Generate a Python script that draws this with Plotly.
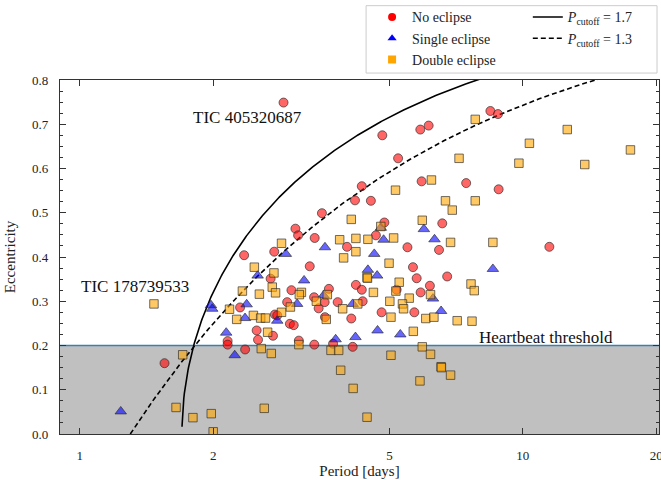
import numpy as np
import plotly.graph_objects as go

# Orbital period [days] and eccentricity, split by eclipse type
no_ecl_period = [1.553, 2.156, 2.156, 2.361, 2.507, 2.525, 2.729, 3.122, 3.383, 2.98,
                 3.04, 2.30, 2.757, 2.79, 2.938, 3.004, 3.304, 3.39, 3.52, 3.067,
                 3.11, 2.747, 2.349, 2.696, 3.379, 3.46, 3.576, 2.883, 4.818, 5.87,
                 6.13, 5.23, 4.33, 5.91, 7.45, 4.18, 4.54, 4.87, 6.58, 6.47,
                 4.66, 4.01, 5.49, 5.65, 5.76, 6.75, 4.20, 4.33, 5.19, 5.88,
                 6.17, 4.80, 5.69, 4.10, 3.65, 3.57, 3.82, 4.35, 3.73, 4.13,
                 8.45, 8.79, 8.82, 11.48]
no_ecl_ecc = [0.160, 0.210, 0.202, 0.191, 0.234, 0.213, 0.222, 0.211, 0.202, 0.249,
              0.246, 0.286, 0.270, 0.268, 0.298, 0.325, 0.379, 0.443, 0.499, 0.464,
              0.449, 0.412, 0.404, 0.351, 0.309, 0.284, 0.264, 0.749, 0.675, 0.688,
              0.697, 0.623, 0.560, 0.571, 0.567, 0.528, 0.527, 0.478, 0.476, 0.416,
              0.449, 0.423, 0.422, 0.377, 0.352, 0.356, 0.337, 0.326, 0.326, 0.320,
              0.335, 0.275, 0.275, 0.261, 0.328, 0.298, 0.298, 0.300, 0.204, 0.197,
              0.730, 0.723, 0.553, 0.423]

single_period = [1.237, 2.14, 2.237, 2.36, 2.79, 1.977, 1.99, 2.38, 3.094, 3.208,
                 3.576, 2.918, 2.52, 3.55, 4.78, 5.98, 6.32, 4.85, 4.62, 4.47,
                 4.69, 6.27, 6.54, 4.13, 4.70, 5.29, 4.19, 3.78, 8.56]
single_ecc = [0.051, 0.229, 0.178, 0.262, 0.256, 0.291, 0.283, 0.293, 0.294, 0.347,
              0.422, 0.407, 0.358, 0.313, 0.466, 0.463, 0.440, 0.439, 0.407, 0.371,
              0.358, 0.306, 0.278, 0.294, 0.234, 0.225, 0.219, 0.214, 0.373]

double_period = [1.47, 1.707, 1.649, 1.80, 1.98, 2.00, 2.26, 2.654, 2.568, 2.705,
                 3.122, 3.60, 2.608, 2.177, 2.465, 2.56, 2.625, 2.853, 2.988, 3.164,
                 3.13, 2.853, 2.477, 2.743, 2.719, 2.766, 2.328, 2.543, 3.42, 7.18,
                 6.22, 5.16, 6.69, 6.93, 4.10, 4.78, 5.93, 6.87, 5.11, 4.47,
                 4.20, 3.86, 4.20, 3.94, 4.99, 4.45, 4.46, 4.60, 5.26, 5.17,
                 6.19, 5.54, 5.01, 5.35, 5.38, 5.04, 6.04, 6.30, 7.11, 3.62,
                 4.24, 3.92, 5.66, 3.69, 3.84, 5.04, 5.93, 6.19, 6.54, 6.55,
                 6.87, 5.86, 3.88, 4.14, 4.45, 7.81, 12.6, 10.35, 17.5, 9.80,
                 13.8, 7.81, 8.56, 7.64, 7.77, 7.68]
double_ecc = [0.294, 0.179, 0.060, 0.037, 0.046, 0.005, 0.259, 0.230, 0.193, 0.182,
              0.202, 0.259, 0.058, 0.282, 0.268, 0.262, 0.262, 0.275, 0.287, 0.320,
              0.315, 0.431, 0.377, 0.364, 0.332, 0.319, 0.323, 0.316, 0.300, 0.623,
              0.574, 0.551, 0.527, 0.506, 0.485, 0.469, 0.483, 0.433, 0.443, 0.440,
              0.442, 0.439, 0.412, 0.398, 0.386, 0.354, 0.352, 0.320, 0.343, 0.323,
              0.315, 0.307, 0.300, 0.294, 0.283, 0.264, 0.261, 0.264, 0.256, 0.315,
              0.294, 0.283, 0.232, 0.189, 0.189, 0.178, 0.197, 0.180, 0.152, 0.150,
              0.133, 0.120, 0.144, 0.103, 0.038, 0.711, 0.688, 0.657, 0.642, 0.612,
              0.609, 0.527, 0.433, 0.339, 0.324, 0.255]

heartbeat_threshold = 0.2
p_cutoff_solid = 1.7
p_cutoff_dashed = 1.3
x_tick_values = [1, 2, 5, 10, 20]
x_tick_labels = ["1", "2", "5", "10", "20"]
y_tick_values = [0.0, 0.1, 0.2, 0.3, 0.4, 0.5, 0.6, 0.7, 0.8]
x_range = [0.902, 20.3]
y_range = [0.0, 0.8]

FONT = "Liberation Serif"
EDGE = "rgba(40,40,40,0.65)"

fig = go.Figure()

# Cutoff envelopes
p_solid = np.geomspace(p_cutoff_solid * 1.0004, x_range[1], 800)
e_solid = np.sqrt(1.0 - (p_cutoff_solid / p_solid) ** (2.0 / 3.0))
p_dash = np.geomspace(p_cutoff_dashed, x_range[1], 800)
e_dash = 1.0 - (p_cutoff_dashed / p_dash) ** (2.0 / 3.0)

fig.add_trace(go.Scatter(x=p_solid, y=e_solid, mode="lines",
                         line=dict(color="black", width=1.6),
                         name="<i>P</i><sub>cutoff</sub> = 1.7", legend="legend2"))
fig.add_trace(go.Scatter(x=p_dash, y=e_dash, mode="lines",
                         line=dict(color="black", width=1.6, dash="5px,3px"),
                         name="<i>P</i><sub>cutoff</sub> = 1.3", legend="legend2"))

# Data points
fig.add_trace(go.Scatter(x=no_ecl_period, y=no_ecl_ecc, mode="markers", showlegend=False,
                         marker=dict(symbol="circle", size=9, color="rgba(255,0,0,0.6)",
                                     line=dict(color=EDGE, width=1))))
fig.add_trace(go.Scatter(x=single_period, y=single_ecc, mode="markers", showlegend=False,
                         marker=dict(symbol="triangle-up", size=10, color="rgba(0,0,255,0.6)",
                                     line=dict(color=EDGE, width=1))))
fig.add_trace(go.Scatter(x=double_period, y=double_ecc, mode="markers", showlegend=False,
                         marker=dict(symbol="square", size=8.5, color="rgba(255,165,0,0.6)",
                                     line=dict(color=EDGE, width=1))))

# Legend entries (solid colours)
for name, sym, col in [("No eclipse", "circle", "red"),
                       ("Single eclipse", "triangle-up", "blue"),
                       ("Double eclipse", "square", "orange")]:
    fig.add_trace(go.Scatter(x=[None], y=[None], mode="markers", name=name, legend="legend",
                             marker=dict(symbol=sym, size=8, color=col, line=dict(width=0))))

# Shaded region below the heartbeat threshold
fig.add_shape(type="rect", xref="paper", x0=0, x1=1, yref="y", y0=0, y1=heartbeat_threshold,
              fillcolor="#c0c0c0", line=dict(width=0), layer="below")
fig.add_shape(type="line", xref="paper", x0=0, x1=1, yref="y",
              y0=heartbeat_threshold, y1=heartbeat_threshold,
              line=dict(color="#3a7fb0", width=1.5), layer="below")

# Legend frame
fig.add_shape(type="rect", xref="paper", yref="paper", x0=0.511, x1=0.9967, y0=1.0196, y1=1.210,
              line=dict(color="#cccccc", width=1), fillcolor="white", layer="below")

ann_font = dict(family=FONT, size=17, color="#111")
fig.add_annotation(x=np.log10(1.78), y=0.716, text="TIC 405320687", showarrow=False,
                   xanchor="left", yanchor="middle", font=ann_font)
fig.add_annotation(x=np.log10(0.995), y=0.334, text="TIC 178739533", showarrow=False,
                   xanchor="left", yanchor="middle", font=ann_font)
fig.add_annotation(x=np.log10(7.88), y=0.219, text="Heartbeat threshold", showarrow=False,
                   xanchor="left", yanchor="middle", font=ann_font)

axis_common = dict(showline=True, linecolor="#333", linewidth=1.2, mirror="allticks",
                   ticks="inside", ticklen=6, tickwidth=1, tickcolor="#333",
                   showgrid=False, zeroline=False, automargin=False,
                   ticklabeloverflow="allow",
                   tickfont=dict(family=FONT, size=13, color="#222"))

fig.update_layout(
    width=661, height=480,
    margin=dict(l=60, r=2, t=77, b=46),
    template="none",
    plot_bgcolor="white", paper_bgcolor="white",
    font=dict(family=FONT, size=13, color="#222"),
    xaxis=dict(type="log", range=[np.log10(x_range[0]), np.log10(x_range[1])],
               tickvals=x_tick_values, ticktext=x_tick_labels, ticklabelstandoff=9,
               title=dict(text="Period [days]", font=dict(family=FONT, size=15), standoff=2),
               **axis_common),
    yaxis=dict(range=y_range, tickvals=y_tick_values, tickformat=".1f", ticklabelstandoff=8,
               minor=dict(dtick=0.025, ticks="inside", ticklen=3, tickcolor="#333"),
               title=dict(text="Eccentricity", font=dict(family=FONT, size=15), standoff=12),
               **axis_common),
    legend=dict(x=0.521, y=1.222, xanchor="left", yanchor="top", bgcolor="rgba(0,0,0,0)",
                borderwidth=0, font=dict(family=FONT, size=14), itemwidth=30, tracegroupgap=0),
    legend2=dict(x=0.781, y=1.222, xanchor="left", yanchor="top", bgcolor="rgba(0,0,0,0)",
                 borderwidth=0, font=dict(family=FONT, size=14), itemwidth=30, tracegroupgap=0),
)

fig.write_html("out.html")
